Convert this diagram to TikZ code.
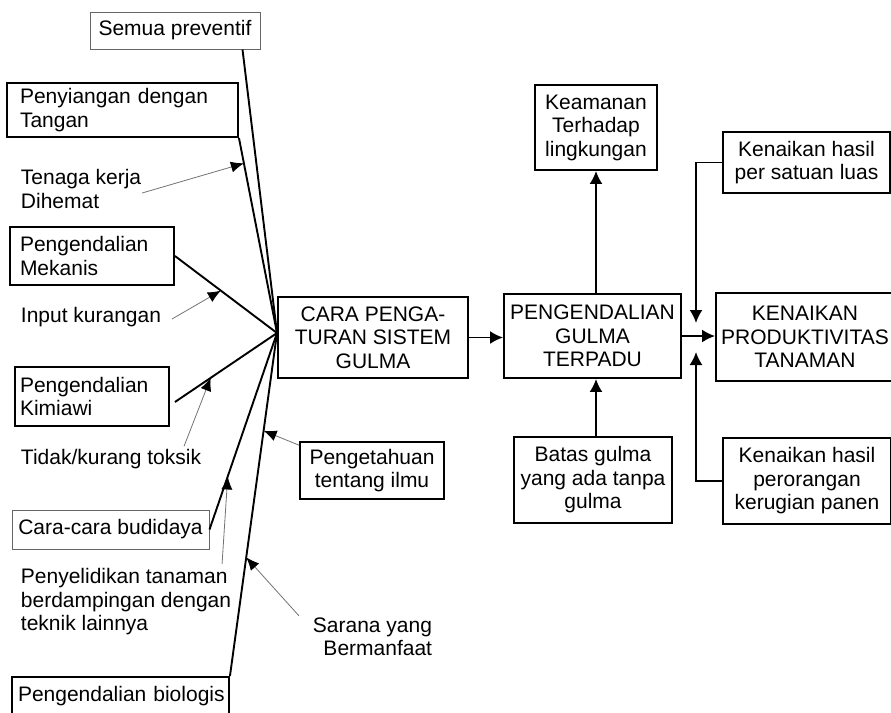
\documentclass[tikz,border=0pt]{standalone}
\usepackage{fontspec}
\setmainfont{Liberation Sans}
\usetikzlibrary{arrows.meta,calc}

\begin{document}
\begin{tikzpicture}[x=1pt,y=-1pt,font=\fontsize{21}{23.5}\selectfont,line width=1.9pt]
\tikzstyle{box}=[draw,line width=1.9pt,inner sep=0pt,align=center]
\tikzstyle{thinbox}=[draw=black!60,line width=1pt,inner sep=0pt,align=center]
\tikzstyle{lbox}=[box,align=left]
\tikzstyle{note}=[inner sep=0pt,align=left,anchor=west]
\tikzstyle{hint}=[draw=black!55,line width=0.8pt,-{Latex[length=13pt,width=11pt,color=black]}]
\tikzstyle{flow}=[-{Latex[length=13pt,width=13pt]}]
\useasboundingbox (0,0) rectangle (891,712);
\node[thinbox,minimum width=170pt,minimum height=37pt] (semua) at (175,30.5) {Semua preventif};
\node[lbox,inner xsep=13pt,text width=205pt,minimum height=54pt] (penyiangan) at (122.5,110) {Penyiangan dengan\\Tangan};
\node[lbox,inner xsep=10pt,text width=144pt,minimum height=58pt] (mekanis) at (92,256) {Pengendalian\\Mekanis};
\node[lbox,inner xsep=5pt,text width=144pt,minimum height=59pt] (kimiawi) at (92,396.5) {Pengendalian\\Kimiawi};
\node[thinbox,minimum width=197pt,minimum height=39pt] (budidaya) at (110.5,529.5) {Cara-cara budidaya};
\node[lbox,inner xsep=6pt,text width=205pt,minimum height=39pt] (biologis) at (120.5,696.5) {\mbox{Pengendalian biologis}};
\node[box,line width=1.4pt,minimum width=144pt,minimum height=57pt] (pengetahuan) at (372,470.5) {Pengetahuan\\tentang ilmu};
\node[note] (tenaga) at (20,189) {Tenaga kerja\\Dihemat};
\node[note] (input) at (20,317) {Input kurangan};
\node[note] (tidak) at (20,459) {Tidak/kurang toksik};
\node[note] (penyelidikan) at (20,602) {Penyelidikan tanaman\\berdampingan dengan\\teknik lainnya};
\node[note,anchor=east,align=right] (sarana) at (433,637) {Sarana yang\\Bermanfaat};
\node[box,minimum width=190pt,minimum height=81pt] (cara) at (373,337.5) {CARA PENGA-\\TURAN SISTEM\\GULMA};
\node[box,minimum width=177pt,minimum height=84pt] (peng) at (592.5,336) {PENGENDALIAN\\GULMA\\TERPADU};
\node[box,minimum width=122pt,minimum height=85pt] (keamanan) at (596,127.5) {Keamanan\\Terhadap\\lingkungan};
\node[box,minimum width=158pt,minimum height=86pt] (batas) at (593,480) {Batas gulma\\yang ada tanpa\\gulma};
\node[box,minimum width=178pt,minimum height=88pt] (kp) at (805,337) {KENAIKAN\\PRODUKTIVITAS\\TANAMAN};
\node[box,minimum width=167pt,minimum height=61pt] (satuan) at (806.5,162.5) {Kenaikan hasil\\per satuan luas};
\node[box,minimum width=168pt,minimum height=86pt] (perorangan) at (807,481) {Kenaikan hasil\\perorangan\\kerugian panen};
\coordinate (hub) at (277,333);
\coordinate (semA) at ([xshift=-18pt]semua.south east);
\coordinate (kimA) at ([shift={(5,5.5)}]kimiawi.east);
\draw (semA) -- (hub);
\draw (penyiangan.south east) -- (hub);
\draw (mekanis.east) -- (hub);
\draw (kimA) -- (hub);
\draw (budidaya.east) -- (hub);
\draw (biologis.north east) -- (hub);
\draw[hint] ([shift={(0,4)}]tenaga.east) -- ($(penyiangan.south east)!0.13!(hub)$);
\draw[hint] ([shift={(10,2)}]input.east) -- ($(mekanis.east)!0.45!(hub)$);
\draw[hint] ([shift={(-18,-2)}]tidak.north east) -- ($(kimA)!0.35!(hub)$);
\draw[hint] ([shift={(0,4)}]pengetahuan.north west) -- ($(biologis.north east)!0.715!(hub)$);
\draw[hint] ([shift={(-10,-4)}]penyelidikan.north east) -- ($(budidaya.east)!0.27!(hub)$);
\draw[hint] ([shift={(-13,-1)}]sarana.north west) -- ($(biologis.north east)!0.346!(hub)$);
\draw[flow] (cara.east) -- (cara.east -| peng.west);
\draw[flow] (keamanan.south |- peng.north) -- (keamanan.south);
\draw[flow] (batas.north -| keamanan.south) -- (peng.south -| keamanan.south);
\draw[flow] (peng.east) -- (peng.east -| kp.west);
\coordinate (joinA) at (696,323);
\coordinate (joinB) at (696,352);
\draw[flow] (satuan.west) -| (joinA);
\draw[flow] (perorangan.west) -| (joinB);
\end{tikzpicture}
\end{document}
